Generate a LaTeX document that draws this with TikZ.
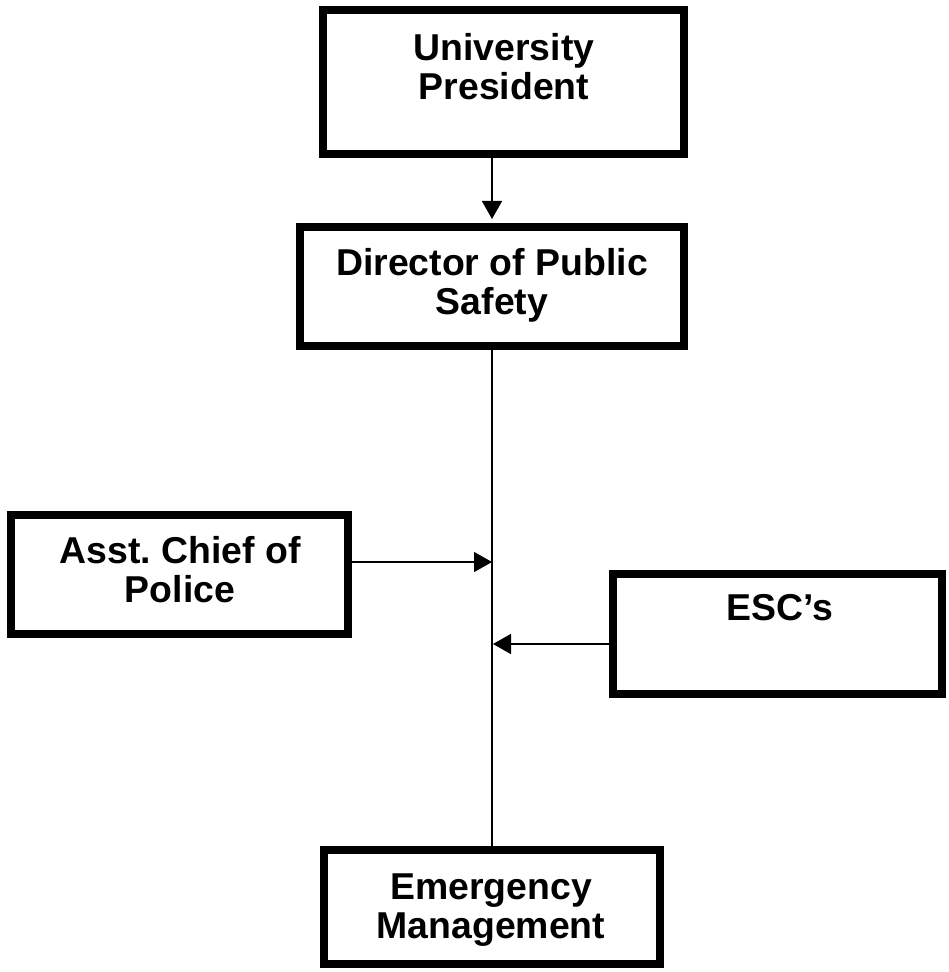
\documentclass[tikz,border=0pt]{standalone}
\usepackage{fontspec}
\setmainfont{Liberation Sans}
\usetikzlibrary{arrows.meta}
\frenchspacing
\begin{document}
\begin{tikzpicture}[x=0.5pt,y=-0.5pt,
  box/.style={draw, fill=white, line width=4pt, rectangle, inner sep=0pt},
  lbl/.style={align=center, font=\fontsize{18.7}{19.5}\selectfont\bfseries, inner sep=0pt},
  conn/.style={line width=0.75pt},
  arr/.style={conn, -{Triangle[length=9pt,width=10pt]}}]
\useasboundingbox (0,0) rectangle (948,972);
% boxes
\node[box, minimum width=180.5pt, minimum height=72pt] (up) at (503.5,82) {};
\node[box, minimum width=192pt, minimum height=59.5pt] (dps) at (492,286.5) {};
\node[box, minimum width=168.5pt, minimum height=59.5pt] (asst) at (179.5,574.5) {};
\node[box, minimum width=164.5pt, minimum height=60pt] (esc) at (777.5,634) {};
\node[box, minimum width=168pt, minimum height=57pt] (em) at (492,907) {};
% labels
\node[lbl] (uptext) at (504,67) {University\\President};
\node[lbl] (dpstext) at (492,285) {Director of Public\\Safety};
\node[lbl] (assttext) at (180,570) {Asst.\ Chief of\\Police};
\node[lbl] (esctext) at (780,608) {ESC’s};
\node[lbl] (emtext) at (491,910) {Emergency\\Management};
% connectors
\coordinate (a1) at (492,0);
\coordinate (j1) at (492,562);
\coordinate (j2) at (493,644);
\draw[arr, shorten >=2pt] (up.south -| a1) -- (dps.north -| a1);
\draw[conn] (dps.south -| a1) -- (em.north -| a1);
\draw[arr] (asst.east |- j1) -- (j1);
\draw[arr] (esc.west |- j2) -- (j2);
\end{tikzpicture}
\end{document}
